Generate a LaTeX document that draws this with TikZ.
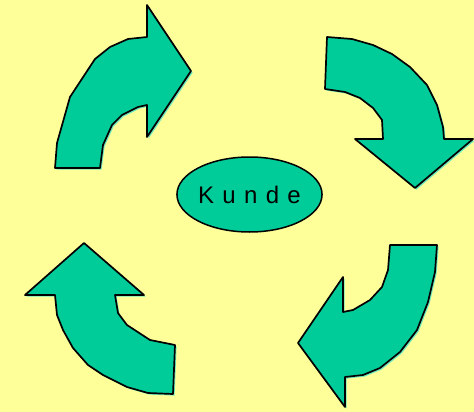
\documentclass[tikz,border=0pt]{standalone}
\usepackage{fontspec}
\setmainfont{Liberation Sans}
\usetikzlibrary{shapes.geometric,shadows}
\definecolor{cyclebg}{RGB}{255,255,153}
\definecolor{cyclegreen}{RGB}{0,204,153}
\definecolor{cycleshadow}{RGB}{110,232,190}

\begin{document}
\begin{tikzpicture}[x=1pt, y=-1pt, line join=round]
  \tikzset{
    turnarrow/.style={draw, line width=1.7pt, fill=cyclegreen,
      drop shadow={shadow xshift=1.6pt, shadow yshift=-1.6pt, fill=cycleshadow, opacity=1}},
    centre/.style={ellipse, draw, line width=1.5pt, fill=cyclegreen, inner sep=0pt,
      minimum width=145pt, minimum height=75pt, font=\fontsize{24}{26}\selectfont}
  }

  % Background
  \fill[cyclebg] (0,0) rectangle (474,412);

  % Top left arrow
  \draw[turnarrow] (55,168) -- (57,143) -- (70,97) -- (95,59) -- (110,47) -- (128,39)
    -- (147,37) -- (147,5) -- (191,71) -- (147,137) -- (147,105) -- (138,107)
    -- (122,115) -- (112,125) -- (103,145) -- (100,168) -- cycle;

  % Top right arrow
  \draw[turnarrow] (327,37) -- (352,39) -- (373,45) -- (392,54) -- (410,67) -- (427,85)
    -- (437,105) -- (443,127) -- (444,139) -- (473,139) -- (415,188) -- (355,139)
    -- (383,139) -- (382,120) -- (373,108) -- (360,98) -- (345,92) -- (325,89) -- cycle;

  % Bottom right arrow
  \draw[turnarrow] (437,245) -- (435,272) -- (428,302) -- (417,330) -- (400,352)
    -- (380,368) -- (363,375) -- (345,377) -- (345,407) -- (298,343) -- (343,277)
    -- (343,312) -- (353,310) -- (370,300) -- (382,287) -- (388,270) -- (390,245) -- cycle;

  % Bottom left arrow
  \draw[turnarrow] (84,243) -- (144,295) -- (115,295) -- (118,313) -- (127,325)
    -- (150,340) -- (175,345) -- (173,394) -- (148,393) -- (127,387) -- (103,375)
    -- (88,365) -- (73,348) -- (63,330) -- (57,315) -- (55,295) -- (25,295) -- cycle;

  % Centre
  \node[centre] (kunde) at (249.5,194.5) {\spaceskip=8.3pt K u n d e};
\end{tikzpicture}
\end{document}
